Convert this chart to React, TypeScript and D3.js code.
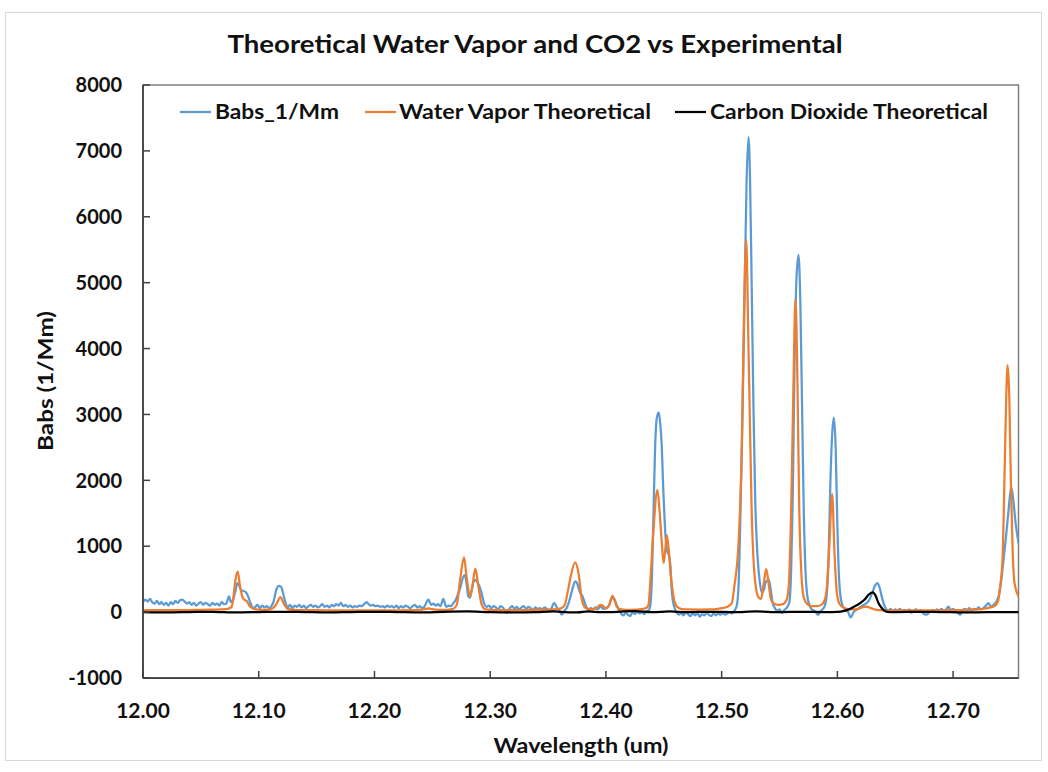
import React from "react";
import * as d3 from "d3";

// Canvas and plot-area geometry
const WIDTH = 1048;
const HEIGHT = 772;
const PLOT = { left: 143, right: 1018.5, top: 85, bottom: 678 };

// Axis settings
const X_DOMAIN: [number, number] = [12.0, 12.7565];
const Y_DOMAIN: [number, number] = [-1000, 8000];
const xTicks = [12.0, 12.1, 12.2, 12.3, 12.4, 12.5, 12.6, 12.7];
const yTicks = [-1000, 0, 1000, 2000, 3000, 4000, 5000, 6000, 7000, 8000];

const seriesNames = ["Babs_1/Mm", "Water Vapor Theoretical", "Carbon Dioxide Theoretical"];
const seriesColors = ["#5B9BD5", "#ED7D31", "#000000"];

// Measured absorption, [wavelength um, Babs 1/Mm]
const babsMeasured: [number, number][] = [
  [12.000,150],[12.002,190],[12.004,160],[12.006,200],[12.008,150],[12.010,130],[12.012,170],[12.014,120],
  [12.016,150],[12.018,110],[12.020,140],[12.022,100],[12.024,150],[12.026,120],[12.028,170],[12.030,140],
  [12.032,180],[12.034,190],[12.036,160],[12.038,130],[12.040,150],[12.042,110],[12.044,140],[12.046,100],
  [12.048,130],[12.050,150],[12.052,110],[12.054,140],[12.056,120],[12.058,100],[12.060,140],[12.062,110],
  [12.064,130],[12.066,100],[12.068,150],[12.070,120],[12.072,130],[12.0743,240],[12.076,150],
  [12.078,200],[12.080,330],[12.0815,440],[12.083,410],[12.085,330],[12.087,320],[12.089,300],[12.091,230],
  [12.093,130],[12.095,60],[12.097,80],[12.099,110],[12.101,60],[12.103,100],[12.105,70],[12.107,90],
  [12.109,60],[12.111,90],[12.113,170],[12.115,330],[12.1175,400],[12.1195,380],[12.121,290],[12.123,150],
  [12.125,70],[12.127,110],[12.129,60],[12.131,100],[12.133,80],[12.135,110],[12.137,70],[12.139,100],
  [12.141,60],[12.143,90],[12.145,110],[12.147,80],[12.149,100],[12.151,70],[12.153,90],[12.155,120],
  [12.157,80],[12.159,100],[12.161,70],[12.163,110],[12.165,90],[12.167,120],[12.169,100],[12.171,140],
  [12.173,90],[12.175,110],[12.177,80],[12.179,100],[12.181,70],[12.183,90],[12.185,80],[12.187,100],
  [12.189,90],[12.191,120],[12.193,150],[12.195,120],[12.197,100],[12.199,110],[12.201,90],[12.203,100],
  [12.205,80],[12.207,90],[12.209,70],[12.211,100],[12.213,80],[12.215,90],[12.217,70],[12.219,100],
  [12.221,60],[12.223,90],[12.225,70],[12.227,100],[12.229,80],[12.231,60],[12.233,90],[12.235,110],
  [12.237,70],[12.239,90],[12.241,60],[12.243,80],[12.2466,190],[12.249,110],[12.251,130],[12.253,100],
  [12.255,120],[12.257,90],[12.2595,200],[12.262,80],[12.264,100],[12.266,90],[12.268,130],[12.270,180],
  [12.272,260],[12.274,360],[12.276,500],[12.278,560],[12.2795,450],[12.281,240],[12.2825,220],[12.284,330],
  [12.2857,460],[12.2875,490],[12.289,450],[12.291,380],[12.293,250],[12.295,120],[12.297,80],[12.299,100],
  [12.301,60],[12.303,90],[12.305,70],[12.307,40],[12.309,90],[12.311,70],[12.3143,-15],[12.317,60],
  [12.319,90],[12.321,50],[12.323,80],[12.325,40],[12.327,70],[12.329,90],[12.331,50],[12.333,80],
  [12.335,60],[12.337,30],[12.339,70],[12.341,50],[12.343,60],[12.345,40],[12.347,70],[12.349,50],
  [12.351,30],[12.353,60],[12.3552,140],[12.358,60],[12.360,20],[12.3618,-40],[12.364,20],[12.366,60],
  [12.368,150],[12.370,280],[12.3715,380],[12.3734,466],[12.375,440],[12.3765,360],[12.378,280],[12.3795,250],
  [12.381,180],[12.383,80],[12.385,30],[12.387,60],[12.389,40],[12.391,70],[12.393,40],[12.395,90],
  [12.397,60],[12.399,50],[12.401,70],[12.403,110],[12.4055,220],[12.4075,190],[12.4095,100],[12.411,40],
  [12.413,-20],[12.415,-50],[12.417,-10],[12.419,-40],[12.421,-60],[12.423,0],[12.425,-30],[12.427,10],
  [12.429,-20],[12.431,0],[12.433,-30],[12.435,10],[12.437,30],[12.4382,85],[12.4397,490],[12.4411,1500],
  [12.4425,2500],[12.444,2950],[12.4457,3030],[12.447,2850],[12.448,2600],[12.4498,1760],[12.4515,1150],
  [12.4526,950],[12.4545,850],[12.4555,750],[12.457,300],[12.459,80],[12.461,0],[12.463,-40],[12.465,-10],
  [12.467,-50],[12.469,0],[12.471,-30],[12.473,-60],[12.475,-20],[12.477,-50],[12.479,-10],[12.481,-70],
  [12.483,-30],[12.485,-50],[12.487,-10],[12.489,-40],[12.491,-60],[12.493,-20],[12.495,-50],[12.497,-20],
  [12.499,-40],[12.501,-10],[12.503,-40],[12.505,-20],[12.507,0],[12.509,-20],[12.511,20],
  [12.5131,100],[12.5146,400],[12.516,1300],[12.518,3000],[12.520,5000],[12.5215,6500],[12.5232,7210],
  [12.5245,6600],[12.526,4900],[12.5275,3100],[12.529,1700],[12.531,850],[12.533,450],[12.5346,300],
  [12.5365,340],[12.538,450],[12.5408,490],[12.5425,330],[12.544,150],[12.546,60],[12.548,20],[12.550,40],
  [12.552,-10],[12.554,30],[12.556,60],[12.5585,150],[12.560,600],[12.5615,1800],[12.563,3800],[12.5645,5000],
  [12.5664,5420],[12.568,4700],[12.5695,3100],[12.571,1500],[12.5725,600],[12.574,250],[12.576,100],
  [12.578,40],[12.580,20],[12.582,-20],[12.5835,-40],[12.585,0],[12.587,40],[12.589,90],[12.591,300],
  [12.5925,900],[12.594,2000],[12.5955,2700],[12.597,2950],[12.5985,2500],[12.600,1300],[12.6015,500],
  [12.603,200],[12.605,80],[12.607,40],[12.609,10],[12.6116,-80],[12.614,0],[12.616,30],[12.618,50],
  [12.620,80],[12.622,100],[12.624,120],[12.626,150],[12.628,200],[12.630,290],[12.6325,400],[12.6345,440],
  [12.6365,370],[12.638,260],[12.640,130],[12.642,50],[12.644,20],[12.646,50],[12.648,10],[12.650,40],
  [12.652,20],[12.654,50],[12.656,10],[12.658,30],[12.660,0],[12.662,40],[12.664,-10],[12.666,20],
  [12.668,40],[12.670,10],[12.672,30],[12.674,-20],[12.6773,-40],[12.680,10],[12.682,30],[12.684,0],
  [12.686,40],[12.688,20],[12.690,50],[12.692,10],[12.694,40],[12.696,85],[12.698,30],[12.700,50],
  [12.702,20],[12.704,-10],[12.7061,-40],[12.708,20],[12.710,50],[12.712,30],[12.714,60],[12.716,20],
  [12.718,50],[12.720,40],[12.722,70],[12.724,40],[12.726,60],[12.728,90],[12.7306,137],[12.733,80],
  [12.735,110],[12.737,150],[12.7393,240],[12.741,400],[12.7436,800],[12.746,1200],[12.748,1560],
  [12.7502,1900],[12.752,1700],[12.754,1350],[12.7565,1050],
];

// Theoretical water vapor absorption
const waterVaporTheory: [number, number][] = [
  [12.000,30],[12.010,30],[12.020,32],[12.030,30],[12.040,32],[12.050,35],[12.060,38],[12.068,42],
  [12.073,50],[12.0766,80],[12.078,200],[12.0795,440],[12.0818,615],[12.0838,400],[12.0861,220],
  [12.0875,190],[12.0895,170],[12.0925,85],[12.0968,45],[12.101,35],[12.106,35],[12.110,45],[12.113,70],
  [12.1155,130],[12.1187,228],[12.1219,120],[12.125,50],[12.130,35],[12.140,30],[12.160,28],[12.180,28],
  [12.200,28],[12.220,28],[12.235,30],[12.2425,40],[12.2465,55],[12.250,45],[12.255,35],[12.262,35],
  [12.268,50],[12.2711,110],[12.274,491],[12.2774,831],[12.2797,520],[12.2826,240],[12.2845,380],
  [12.2872,659],[12.2898,390],[12.2927,111],[12.2956,45],[12.300,35],[12.310,30],[12.320,30],[12.330,32],
  [12.340,35],[12.350,38],[12.358,45],[12.3625,70],[12.3647,120],[12.3669,300],[12.3691,500],[12.3734,755],
  [12.3763,593],[12.3792,190],[12.382,70],[12.386,45],[12.390,50],[12.393,80],[12.395,111],[12.397,100],
  [12.399,70],[12.401,60],[12.403,120],[12.4057,248],[12.408,150],[12.4094,80],[12.412,45],[12.418,35],
  [12.425,38],[12.431,45],[12.4355,70],[12.4368,110],[12.4385,500],[12.4411,1253],[12.4445,1855],
  [12.4465,1500],[12.4483,1050],[12.4498,746],[12.451,900],[12.4527,1170],[12.4545,900],[12.4561,550],
  [12.4584,237],[12.4613,85],[12.465,50],[12.470,40],[12.480,38],[12.490,40],[12.497,50],[12.503,70],
  [12.506,90],[12.5088,137],[12.511,400],[12.5146,1050],[12.5175,2572],[12.5189,4094],[12.5212,5650],
  [12.523,4200],[12.5245,2800],[12.526,1500],[12.528,650],[12.530,330],[12.532,220],[12.534,200],
  [12.5365,450],[12.5385,654],[12.5405,450],[12.5425,200],[12.545,130],[12.549,110],[12.553,120],
  [12.556,180],[12.558,400],[12.560,1500],[12.562,3400],[12.5638,4750],[12.5655,3500],[12.567,1600],
  [12.569,550],[12.571,220],[12.574,120],[12.578,90],[12.582,90],[12.586,110],[12.589,180],[12.591,400],
  [12.593,1000],[12.5955,1790],[12.5975,900],[12.5995,300],[12.602,120],[12.606,60],[12.612,40],
  [12.618,50],[12.622,75],[12.6254,85],[12.629,60],[12.634,35],[12.640,28],[12.650,25],[12.660,25],
  [12.670,25],[12.680,25],[12.690,28],[12.700,30],[12.710,32],[12.720,40],[12.728,55],[12.733,75],
  [12.737,110],[12.739,180],[12.7407,400],[12.7427,800],[12.7442,1875],[12.7458,3200],[12.7471,3750],
  [12.7485,3300],[12.750,1900],[12.7515,900],[12.753,450],[12.7565,240],
];

// Theoretical carbon dioxide absorption
const co2Theory: [number, number][] = [
  [12.000,0],[12.020,-5],[12.040,0],[12.060,5],[12.080,-5],[12.100,0],[12.120,5],[12.140,0],[12.160,-5],
  [12.180,0],[12.200,5],[12.220,0],[12.240,-5],[12.260,5],[12.280,10],[12.300,0],[12.320,-5],[12.340,0],
  [12.355,10],[12.365,0],[12.375,-5],[12.385,10],[12.395,0],[12.410,5],[12.425,15],[12.440,0],[12.455,10],
  [12.470,0],[12.490,5],[12.510,0],[12.530,10],[12.550,0],[12.570,5],[12.590,0],[12.600,5],[12.605,15],
  [12.6082,30],[12.612,60],[12.6197,137],[12.624,200],[12.6269,263],[12.6307,300],[12.633,250],
  [12.6355,137],[12.638,70],[12.6398,35],[12.643,5],[12.650,0],[12.670,5],[12.690,0],[12.710,-5],
  [12.730,0],[12.7565,0],
];

const allSeries = [babsMeasured, waterVaporTheory, co2Theory];

const FONT = "Lato, 'Open Sans', sans-serif";

export default function App() {
  const x = d3.scaleLinear().domain(X_DOMAIN).range([PLOT.left, PLOT.right]);
  const y = d3.scaleLinear().domain(Y_DOMAIN).range([PLOT.bottom, PLOT.top]);
  const line = d3
    .line<[number, number]>()
    .x((d) => x(d[0]))
    .y((d) => y(d[1]))
    .curve(d3.curveMonotoneX);

  const legendItems = [
    { lineX: 180, textX: 215, textLen: 124 },
    { lineX: 365, textX: 399, textLen: 252 },
    { lineX: 675, textX: 710, textLen: 278 },
  ];

  return (
    <div style={{ position: "absolute", left: 0, top: 0 }}>
      <svg width={WIDTH} height={HEIGHT} style={{ display: "block", background: "#fff" }} fontFamily={FONT}>
        <defs>
          <clipPath id="plot-clip">
            <rect x={PLOT.left} y={PLOT.top} width={PLOT.right - PLOT.left} height={PLOT.bottom - PLOT.top} />
          </clipPath>
        </defs>
        <rect x={5.5} y={12.5} width={1036} height={748} fill="#fff" stroke="#d9d9d9" strokeWidth={1} />

        <text x={535} y={53} textAnchor="middle" fontSize={25} fontWeight="bold" fill="#111"
          textLength={615} lengthAdjust="spacingAndGlyphs">
          Theoretical Water Vapor and CO2 vs Experimental
        </text>

        {/* plot frame */}
        <rect x={PLOT.left} y={PLOT.top} width={PLOT.right - PLOT.left} height={PLOT.bottom - PLOT.top}
          fill="none" stroke="#7f7f7f" strokeWidth={1.5} />

        {/* series */}
        <g clipPath="url(#plot-clip)">
          {allSeries.map((s, i) => (
            <path key={i} d={line(s) || ""} fill="none" stroke={seriesColors[i]} strokeWidth={2.25}
              strokeLinejoin="round" strokeLinecap="round" />
          ))}
        </g>

        {/* axes */}
        <line x1={PLOT.left} x2={PLOT.left} y1={PLOT.top} y2={PLOT.bottom} stroke="#404040" strokeWidth={1.75} />
        <line x1={PLOT.left} x2={PLOT.right} y1={PLOT.bottom} y2={PLOT.bottom} stroke="#404040" strokeWidth={1.75} />

        {yTicks.map((t) => (
          <g key={t}>
            <line x1={PLOT.left} x2={PLOT.left + 7} y1={y(t)} y2={y(t)} stroke="#404040" strokeWidth={1.5} />
            <text x={122} y={y(t)} dy="0.36em" textAnchor="end" fontSize={20} fontWeight="bold" fill="#111">
              {t}
            </text>
          </g>
        ))}
        {xTicks.map((t) => (
          <g key={t}>
            <line x1={x(t)} x2={x(t)} y1={PLOT.bottom} y2={PLOT.bottom - 7} stroke="#404040" strokeWidth={1.5} />
            <text x={x(t)} y={718} textAnchor="middle" fontSize={21} fontWeight="bold" fill="#111">
              {d3.format(".2f")(t)}
            </text>
          </g>
        ))}

        <text x={581} y={753} textAnchor="middle" fontSize={21} fontWeight="bold" fill="#111"
          textLength={175} lengthAdjust="spacingAndGlyphs">
          Wavelength (um)
        </text>
        <text transform="translate(53,381) rotate(-90)" textAnchor="middle" fontSize={21} fontWeight="bold"
          fill="#111" textLength={140} lengthAdjust="spacingAndGlyphs">
          Babs (1/Mm)
        </text>

        {/* legend */}
        {legendItems.map((it, i) => (
          <g key={i}>
            <line x1={it.lineX} x2={it.lineX + 31} y1={112} y2={112} stroke={seriesColors[i]} strokeWidth={2.25} />
            <text x={it.textX} y={119} fontSize={21} fontWeight="bold" fill="#111"
              textLength={it.textLen} lengthAdjust="spacingAndGlyphs">
              {seriesNames[i]}
            </text>
          </g>
        ))}
      </svg>
    </div>
  );
}
